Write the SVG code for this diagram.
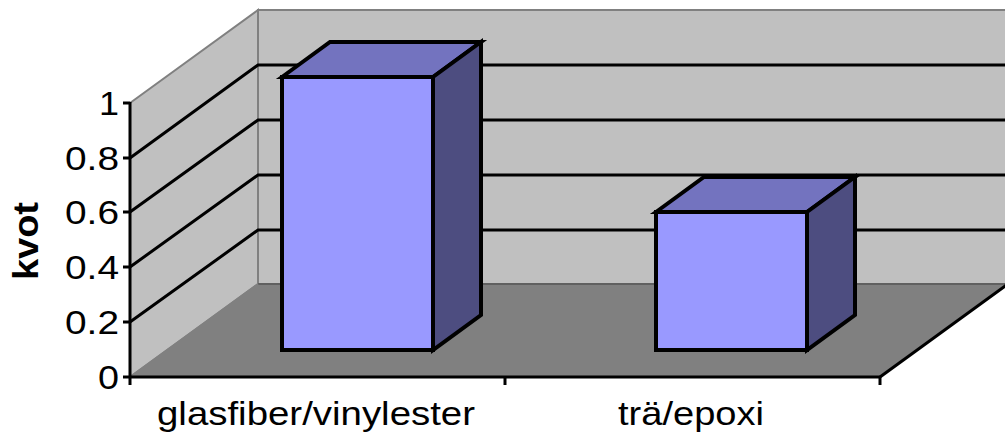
<svg xmlns="http://www.w3.org/2000/svg" width="1005" height="436" viewBox="0 0 1005 436">
<style>
.wall{fill:#c0c0c0;stroke:#808080;stroke-width:2}
.floor{fill:#808080;stroke:none}
.grid{stroke:#000;stroke-width:3;fill:none}
.axis{stroke:#000;stroke-width:3;fill:none}
.front{fill:#9999ff;stroke:#000;stroke-width:4;stroke-linejoin:miter}
.top{fill:#7373bf;stroke:#000;stroke-width:4;stroke-linejoin:miter}
.side{fill:#4d4d80;stroke:#000;stroke-width:4;stroke-linejoin:miter}
.lbl{font-family:"Liberation Sans",Arial,sans-serif;font-size:33px;fill:#000}
.ttl{font-family:"Liberation Sans",Arial,sans-serif;font-size:35px;font-weight:bold;fill:#000}
</style>
<rect width="1005" height="436" fill="#fff"/>
<g id="plot-area">
<polygon class="wall" points="258,10 1010,10 1010,284 258,284"/>
<polygon class="wall" points="130,103 258,10 258,284 130,377"/>
<polygon class="floor" points="130,377 258,284 1010,284 880,377"/>
<line x1="258" y1="284" x2="1010" y2="284" stroke="#606060" stroke-width="2"/>
<line x1="130" y1="377" x2="258" y2="284" stroke="#808080" stroke-width="2"/>
<line x1="880" y1="377" x2="1008" y2="284" stroke="#000" stroke-width="3"/>
</g>
<g id="gridlines">
<polyline class="grid" points="130,158 258,65 1005,65"/>
<polyline class="grid" points="130,212 258,120 1005,120"/>
<polyline class="grid" points="130,267 258,175 1005,175"/>
<polyline class="grid" points="130,322 258,230 1005,230"/>
</g>
<g id="axes">
<line class="axis" x1="130" y1="102" x2="130" y2="385"/>
<line class="axis" x1="129" y1="377" x2="880" y2="377"/>
<line class="axis" x1="123" y1="103" x2="130" y2="103"/>
<line class="axis" x1="123" y1="158" x2="130" y2="158"/>
<line class="axis" x1="123" y1="212" x2="130" y2="212"/>
<line class="axis" x1="123" y1="267" x2="130" y2="267"/>
<line class="axis" x1="123" y1="322" x2="130" y2="322"/>
<line class="axis" x1="123" y1="377" x2="130" y2="377"/>
<line class="axis" x1="505" y1="377" x2="505" y2="385"/>
<line class="axis" x1="880" y1="377" x2="880" y2="385"/>
</g>
<g id="bar-glasfiber">
<polygon class="top" points="282,77 330,42 481,42 433,77"/>
<polygon class="side" points="433,77 481,42 481,315 433,350"/>
<rect class="front" x="282" y="77" width="151" height="273"/>
</g>
<g id="bar-tra">
<polygon class="top" points="656,212 704,177 855,177 807,212"/>
<polygon class="side" points="807,212 855,177 855,315 807,350"/>
<rect class="front" x="656" y="212" width="151" height="138"/>
</g>
<g id="y-labels">
<text class="lbl" x="119" y="115" text-anchor="end" textLength="20" lengthAdjust="spacingAndGlyphs">1</text>
<text class="lbl" x="119" y="170" text-anchor="end" textLength="54" lengthAdjust="spacingAndGlyphs">0.8</text>
<text class="lbl" x="119" y="224" text-anchor="end" textLength="54" lengthAdjust="spacingAndGlyphs">0.6</text>
<text class="lbl" x="119" y="279" text-anchor="end" textLength="54" lengthAdjust="spacingAndGlyphs">0.4</text>
<text class="lbl" x="119" y="334" text-anchor="end" textLength="54" lengthAdjust="spacingAndGlyphs">0.2</text>
<text class="lbl" x="119" y="389" text-anchor="end" textLength="21" lengthAdjust="spacingAndGlyphs">0</text>
</g>
<g id="x-labels">
<text class="lbl" x="316" y="425" text-anchor="middle" textLength="318" lengthAdjust="spacingAndGlyphs">glasfiber/vinylester</text>
<text class="lbl" x="691" y="425" text-anchor="middle" textLength="146" lengthAdjust="spacingAndGlyphs">trä/epoxi</text>
</g>
<g id="y-title">
<text class="ttl" transform="translate(38,241) rotate(-90)" text-anchor="middle" textLength="78" lengthAdjust="spacingAndGlyphs">kvot</text>
</g>
</svg>
